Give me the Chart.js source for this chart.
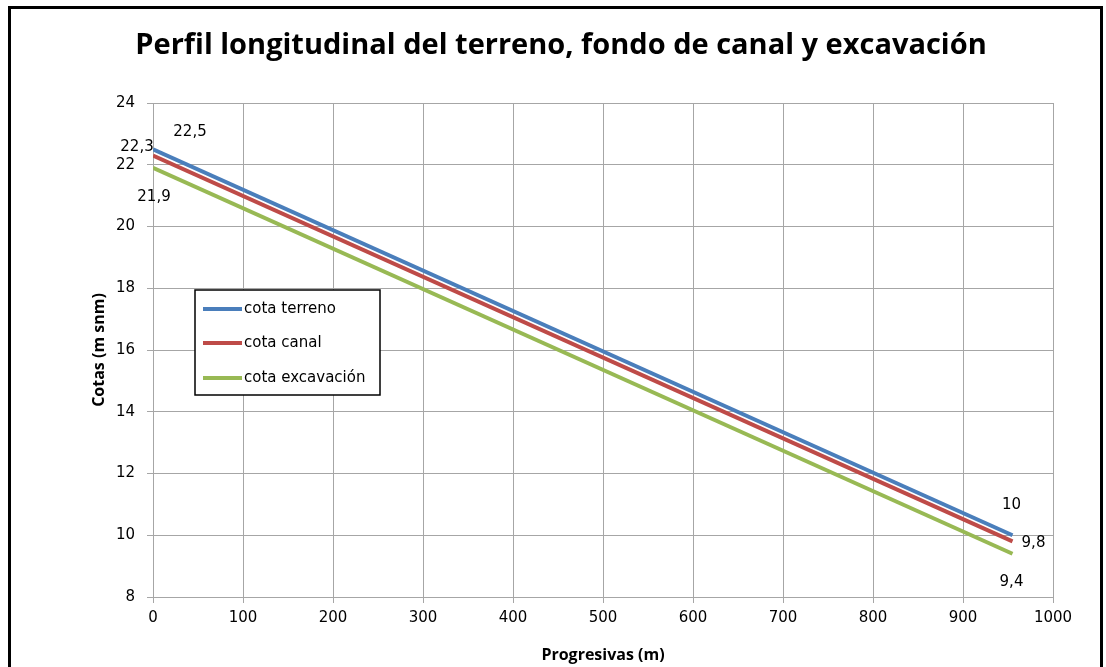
<!DOCTYPE html>
<html lang="es">
<head>
<meta charset="UTF-8">
<title>Perfil longitudinal</title>
<script src="https://cdn.jsdelivr.net/npm/chart.js"></script>
<style>
    body { margin: 0; background: #fff; }
    #marco {
        position: absolute; left: 8px; top: 6px; width: 1089px; height: 700px;
        border: 3px solid #000; border-bottom: none;
    }
    #wrap { position: absolute; left: 0; top: 0; width: 1106px; height: 667px; }
</style>
</head>
<body>
<div id="marco"></div>
<div id="wrap"><canvas id="grafico" width="1106" height="667"></canvas></div>
<script>
    // datos
    const progresivas = [0, 955];
    const cotaTerreno = [22.5, 10];
    const cotaCanal = [22.3, 9.8];
    const cotaExcavacion = [21.9, 9.4];
    const etiquetasInicio = ['22,5', '22,3', '21,9'];
    const etiquetasFin = ['10', '9,8', '9,4'];

    const fuenteTicks = '"DejaVu Sans", Verdana, sans-serif';
    const fuenteTitulos = '"Open Sans", sans-serif';

    function puntos(ys) {
        return progresivas.map((x, i) => ({ x: x, y: ys[i] }));
    }

    // titulo, leyenda y etiquetas de datos
    const extras = {
        id: 'extras',
        afterDraw(chart) {
            const ctx = chart.ctx;
            const sx = chart.scales.x, sy = chart.scales.y;
            ctx.save();
            ctx.fillStyle = '#000';
            ctx.font = 'bold 29px ' + fuenteTitulos;
            ctx.textAlign = 'center';
            ctx.textBaseline = 'middle';
            ctx.fillText('Perfil longitudinal del terreno, fondo de canal y excavación', 561, 46);

            // etiquetas de datos
            ctx.font = '15px ' + fuenteTicks;
            const offIni = [[37, -17], [-16, -8], [1, 29]];
            const offFin = [[-1, -30], [21, 2], [-1, 28]];
            chart.data.datasets.forEach((ds, i) => {
                const p0 = ds.data[0], p1 = ds.data[ds.data.length - 1];
                ctx.fillText(etiquetasInicio[i], sx.getPixelForValue(p0.x) + offIni[i][0], sy.getPixelForValue(p0.y) + offIni[i][1]);
                ctx.fillText(etiquetasFin[i], sx.getPixelForValue(p1.x) + offFin[i][0], sy.getPixelForValue(p1.y) + offFin[i][1]);
            });

            // leyenda
            const lx = 195, ly = 290, lw = 185, lh = 105;
            ctx.fillStyle = '#fff';
            ctx.fillRect(lx, ly, lw, lh);
            ctx.strokeStyle = '#000';
            ctx.lineWidth = 1.5;
            ctx.strokeRect(lx, ly, lw, lh);
            ctx.textAlign = 'left';
            ctx.font = '15px ' + fuenteTicks;
            const filas = [309, 343, 378];
            chart.data.datasets.forEach((ds, i) => {
                ctx.strokeStyle = ds.borderColor;
                ctx.lineWidth = 4;
                ctx.beginPath();
                ctx.moveTo(203, filas[i]);
                ctx.lineTo(242, filas[i]);
                ctx.stroke();
                ctx.fillStyle = '#000';
                ctx.fillText(ds.label, 244, filas[i]);
            });
            ctx.restore();
        }
    };

    new Chart(document.getElementById('grafico'), {
        type: 'line',
        data: {
            datasets: [
                { label: 'cota terreno', data: puntos(cotaTerreno), borderColor: '#4a7ebb' },
                { label: 'cota canal', data: puntos(cotaCanal), borderColor: '#be4b48' },
                { label: 'cota excavación', data: puntos(cotaExcavacion), borderColor: '#98b954' }
            ]
        },
        options: {
            responsive: false,
            animation: false,
            layout: { padding: { top: 103, right: 53, left: 0, bottom: 0 } },
            elements: {
                line: { borderWidth: 4, tension: 0 },
                point: { radius: 0 }
            },
            plugins: {
                legend: { display: false },
                tooltip: { enabled: false }
            },
            scales: {
                x: {
                    type: 'linear', min: 0, max: 1000,
                    ticks: { stepSize: 100, color: '#000', font: { family: fuenteTicks, size: 15 }, maxRotation: 0, padding: 6, callback: v => String(v) },
                    grid: { color: '#a6a6a6', tickLength: 6, lineWidth: 1 },
                    border: { color: '#a6a6a6' },
                    title: { display: true, text: 'Progresivas (m)', color: '#000', font: { family: fuenteTitulos, size: 16, weight: 'bold' }, padding: { top: 4, bottom: 2 } },
                    afterFit(scale) { scale.height = 70; }
                },
                y: {
                    min: 8, max: 24,
                    ticks: { stepSize: 2, color: '#000', font: { family: fuenteTicks, size: 15 }, padding: 12 },
                    grid: { color: '#a6a6a6', tickLength: 6, lineWidth: 1 },
                    border: { color: '#a6a6a6' },
                    title: { display: true, text: 'Cotas (m snm)', color: '#000', font: { family: fuenteTitulos, size: 16, weight: 'bold' }, padding: { top: 90, bottom: 0 } },
                    afterFit(scale) { scale.width = 153; }
                }
            }
        },
        plugins: [extras]
    });
</script>
</body>
</html>
